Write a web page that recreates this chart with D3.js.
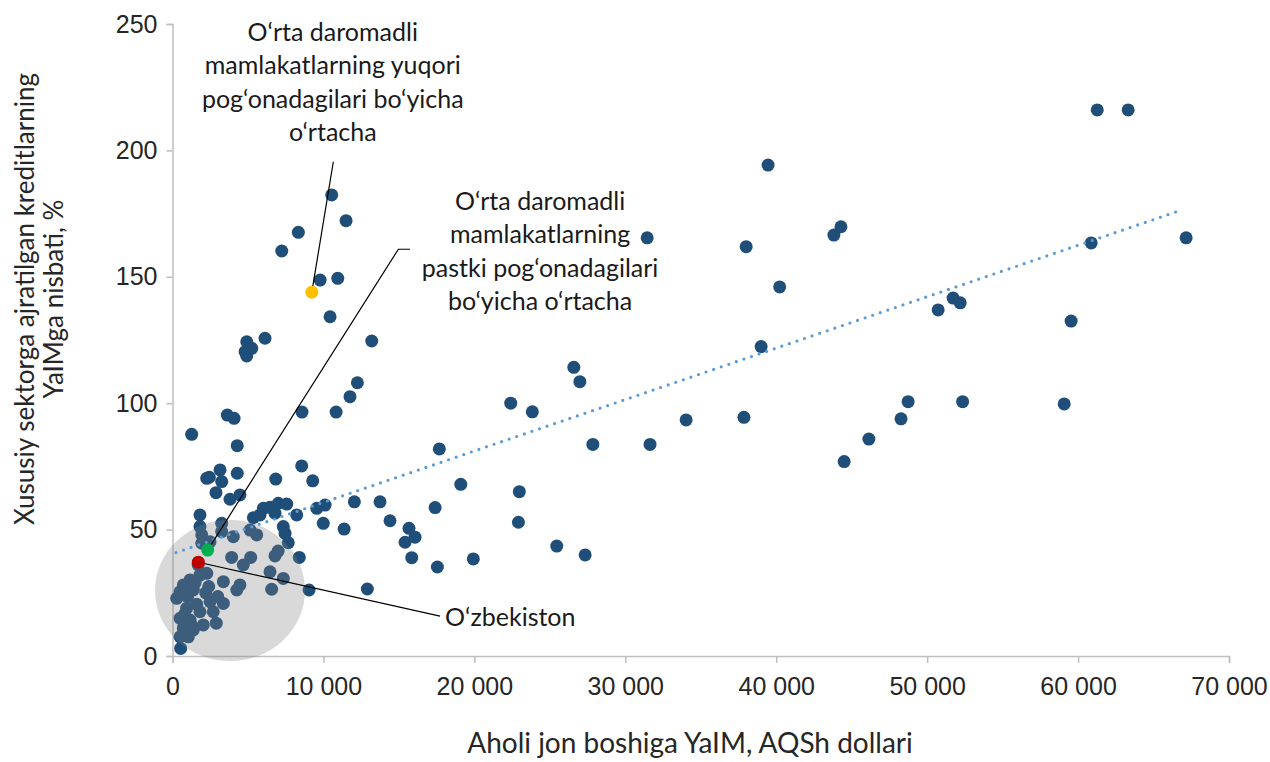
<!DOCTYPE html>
<html>
<head>
<meta charset="utf-8">
<script src="https://cdn.jsdelivr.net/npm/d3@7"></script>
<style>
  html, body { margin: 0; padding: 0; background: #ffffff; }
  svg { display: block; font-family: Lato, "Open Sans", sans-serif; }
</style>
</head>
<body>
<svg id="chart" width="1270" height="762"></svg>
<script>
// GDP per capita (USD) for each country
const gdpPerCapita = [
  61270, 63320, 67160, 60870, 59540, 59080, 51720, 52190, 50730, 48740,
  52350, 48270, 46140, 44500, 43820, 44290, 40230, 39460, 39000, 38010,
  37860, 34030, 31640, 31450, 27850, 26590, 26990, 22410, 23840, 17680,
  19100, 22980, 17400, 22920, 19930, 25460, 27340, 13750, 12050, 14410,
  15670, 16070, 15410, 15850, 17550, 11370, 12910, 9050,
  10550, 11500, 8340, 7240, 9780, 10950, 10440, 13200, 6130, 4920,
  5250, 4810, 4920, 12250, 11760, 8580, 10840, 3630, 4080, 1270,
  4290, 8560, 9290, 6840, 2440, 3150, 3260, 4290, 2270, 2880,
  3810, 4470, 1820, 1820, 3260, 5360, 6020, 6460, 7010, 7570,
  5800, 6790, 8230, 7340, 7460, 9560, 10110, 9990, 5140, 5580,
  4030, 3260, 1940,
  1940, 2490, 3920, 5180, 4690, 6790, 7000, 6460, 8400, 7670,
  7340, 6570, 3370, 4470, 4260, 2270, 1820, 1160, 720, 500,
  280, 1380, 2490, 3370, 940, 1820, 2700, 500, 1160, 2040,
  720, 1380, 500, 1050, 540, 1600, 1000, 2200, 1500, 800,
  1250, 2900, 2400, 1700, 3000
];

// Private-sector credit as % of GDP, same order as gdpPerCapita
const creditToGdp = [
  216.0, 216.0, 165.4, 163.4, 132.5, 99.7, 141.6, 139.7, 136.9, 100.6,
  100.6, 93.8, 85.8, 76.9, 166.5, 169.8, 146.0, 194.2, 122.4, 161.9,
  94.4, 93.4, 83.7, 165.4, 83.7, 114.2, 108.5, 100.0, 96.6, 81.9,
  67.9, 65.0, 58.7, 52.9, 38.4, 43.5, 40.0, 61.0, 61.0, 53.5,
  50.5, 47.0, 45.0, 38.9, 35.2, 50.2, 26.5, 26.1,
  182.4, 172.2, 167.6, 160.2, 148.7, 149.4, 134.2, 124.6, 125.7, 124.3,
  121.7, 120.4, 118.7, 108.1, 102.6, 96.5, 96.5, 95.3, 94.0, 87.7,
  83.2, 75.2, 69.3, 70.0, 70.7, 73.6, 69.0, 72.3, 70.3, 64.6,
  62.0, 63.7, 55.8, 51.2, 52.5, 54.7, 58.4, 58.8, 60.4, 60.1,
  55.8, 56.5, 55.8, 51.2, 48.5, 58.4, 59.7, 52.5, 49.8, 47.9,
  47.2, 49.2, 47.9,
  44.6, 45.2, 39.0, 39.0, 36.0, 39.6, 41.5, 33.3, 39.0, 44.8,
  30.7, 26.4, 29.4, 28.1, 26.1, 32.7, 32.0, 30.1, 28.1, 25.4,
  22.8, 26.1, 21.5, 20.8, 18.9, 17.5, 17.5, 14.9, 14.2, 12.3,
  11.0, 10.3, 7.6, 7.6, 3.0, 20.5, 23.5, 25.0, 29.0, 16.5,
  12.3, 13.0, 27.5, 36.0, 23.5
];

// Highlighted group averages and Uzbekistan
const highlightNames = ["upperMiddle", "lowerMiddle", "uzbekistan"];
const highlightGdp = [9230, 2330, 1710];
const highlightCredit = [143.9, 41.9, 37.1];
const highlightColors = ["#ffc000", "#00b050", "#c00000"];

// Linear trend line end points
const trendGdp = [230, 66900];
const trendCredit = [40.9, 176.5];

// Axis ticks
const xTicks = [0, 10000, 20000, 30000, 40000, 50000, 60000, 70000];
const yTicks = [0, 50, 100, 150, 200, 250];

// Labels
const xTitle = "Aholi jon boshiga YaIM, AQSh dollari";
const yTitleLines = ["Xususiy sektorga ajratilgan kreditlarning", "YaIMga nisbati, %"];
const upperLabel = ["O‘rta daromadli", "mamlakatlarning yuqori", "pog‘onadagilari bo‘yicha", "o‘rtacha"];
const lowerLabel = ["O‘rta daromadli", "mamlakatlarning", "pastki pog‘onadagilari", "bo‘yicha o‘rtacha"];
const uzLabel = "O‘zbekiston";

// Leader-line anchor points (data units)
const upperLeaderEnd = [10656, 195.5];
const lowerLeaderBend = [14964, 160.9];
const lowerLeaderEnd = [15740, 160.9];
const uzLeaderEnd = [17727, 15.8];
const upperLabelPos = [10620, 246.9];
const lowerLabelPos = [24354, 180.0];
const uzLabelPos = [18060, 15.4];

// Low-income cluster outline: centre and radii (data units)
const clusterCentre = [3810, 25.9];
const clusterRadius = [4970, 27.9];

const svg = d3.select("#chart");
const x = d3.scaleLinear().domain([0, 70000]).range([172.5, 1229]);
const y = d3.scaleLinear().domain([0, 250]).range([656, 24]);

const axisColor = "#bfbfbf";
const textColor = "#262626";

// X axis
const xAxis = svg.append("g").attr("transform", `translate(0,${y(0)})`)
  .call(d3.axisBottom(x).tickValues(xTicks).tickSize(7).tickPadding(14)
    .tickFormat(v => v === 0 ? "0" : d3.format(",")(v).replace(/,/g, " ")));
xAxis.select(".domain").attr("stroke", axisColor).attr("stroke-width", 1.5);
xAxis.selectAll(".tick line").attr("stroke", axisColor).attr("stroke-width", 1.5);
xAxis.selectAll(".tick text").attr("fill", textColor)
  .style("font-size", "25px").attr("dy", "0.72em");

// Y axis
const yAxis = svg.append("g").attr("transform", `translate(${x(0)},0)`)
  .call(d3.axisLeft(y).tickValues(yTicks).tickSize(6).tickPadding(9));
yAxis.select(".domain").attr("stroke", axisColor).attr("stroke-width", 1.5);
yAxis.selectAll(".tick line").attr("stroke", axisColor).attr("stroke-width", 1.5);
yAxis.selectAll(".tick text").attr("fill", textColor).style("font-size", "25px");

// Country points
svg.append("g").selectAll("circle")
  .data(gdpPerCapita.map((g, i) => ({ g, c: creditToGdp[i] })))
  .join("circle")
  .attr("cx", d => x(d.g))
  .attr("cy", d => y(d.c))
  .attr("r", 6.5)
  .attr("fill", "#1f4e79");

// Translucent outline over the low-income cluster
svg.append("ellipse")
  .attr("cx", x(clusterCentre[0]))
  .attr("cy", y(clusterCentre[1]))
  .attr("rx", x(clusterRadius[0]) - x(0))
  .attr("ry", y(0) - y(clusterRadius[1]))
  .attr("fill", "#808080")
  .attr("fill-opacity", 0.3);

// Dotted trend line
svg.append("line")
  .attr("x1", x(trendGdp[0])).attr("y1", y(trendCredit[0]))
  .attr("x2", x(trendGdp[1])).attr("y2", y(trendCredit[1]))
  .attr("stroke", "#5b9bd5")
  .attr("stroke-width", 3.2)
  .attr("stroke-linecap", "round")
  .attr("stroke-dasharray", "0 8");

// Leader lines
const leader = d3.line().x(d => x(d[0])).y(d => y(d[1]));
const leaders = [
  [[highlightGdp[0], highlightCredit[0]], upperLeaderEnd],
  [[highlightGdp[1], highlightCredit[1]], lowerLeaderBend, lowerLeaderEnd],
  [[highlightGdp[2], highlightCredit[2]], uzLeaderEnd]
];
svg.append("g").selectAll("path").data(leaders).join("path")
  .attr("d", leader)
  .attr("fill", "none")
  .attr("stroke", "#000000")
  .attr("stroke-width", 1.2);

// Highlighted points
svg.append("g").selectAll("circle")
  .data(highlightNames.map((n, i) => ({ n, g: highlightGdp[i], c: highlightCredit[i], col: highlightColors[i] })))
  .join("circle")
  .attr("cx", d => x(d.g))
  .attr("cy", d => y(d.c))
  .attr("r", 6.5)
  .attr("fill", d => d.col);

// Annotation labels
function multiLine(lines, pos, anchor) {
  const t = svg.append("text")
    .attr("text-anchor", anchor)
    .attr("fill", "#1a1a1a")
    .style("font-size", "25px");
  lines.forEach((s, i) => {
    t.append("tspan")
      .attr("x", x(pos[0]))
      .attr("y", y(pos[1]) + i * 33.5)
      .attr("dy", "0.35em")
      .text(s);
  });
}
multiLine(upperLabel, upperLabelPos, "middle");
multiLine(lowerLabel, lowerLabelPos, "middle");
multiLine([uzLabel], uzLabelPos, "start");

// Axis titles
svg.append("text")
  .attr("x", 690).attr("y", 753)
  .attr("text-anchor", "middle")
  .attr("fill", textColor)
  .style("font-size", "28px")
  .text(xTitle);

const yt = svg.append("text")
  .attr("transform", "translate(25,299) rotate(-90)")
  .attr("text-anchor", "middle")
  .attr("fill", textColor)
  .style("font-size", "26px");
yTitleLines.forEach((s, i) => {
  yt.append("tspan").attr("x", 0).attr("y", i * 29).attr("dy", "0.35em").text(s);
});
</script>
</body>
</html>
